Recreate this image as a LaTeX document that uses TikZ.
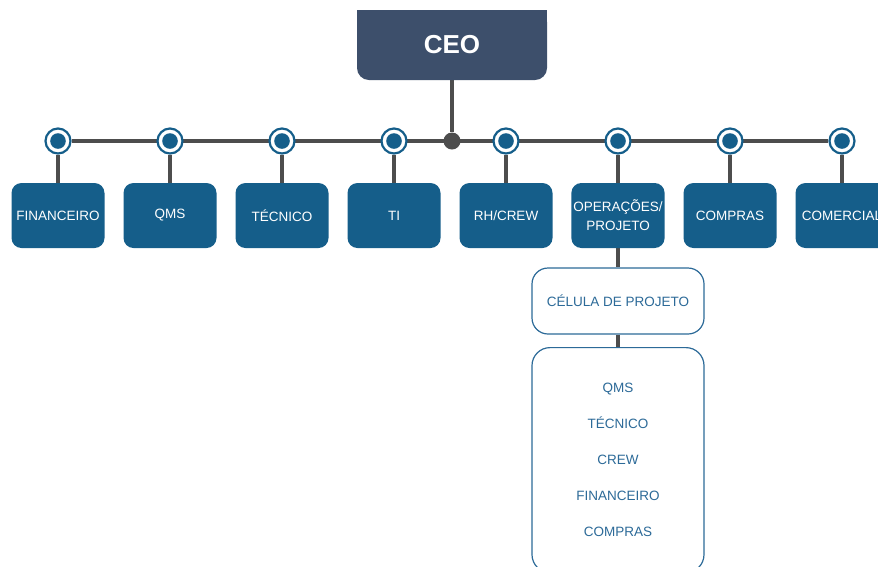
\documentclass[tikz,border=0pt]{standalone}
\usepackage{fontspec}
\setmainfont{Liberation Sans}
\usetikzlibrary{calc,shapes,backgrounds,positioning}
\definecolor{ceoblue}{HTML}{3D4F6B}
\definecolor{deptblue}{HTML}{155E8A}
\definecolor{linegray}{HTML}{4D4D4D}
\definecolor{textblue}{HTML}{2C6A98}

\begin{document}
\begin{tikzpicture}[x=1pt,y=-1pt]
      \tikzstyle{every node}=[font=\fontsize{13.5}{19}\selectfont]
      \tikzstyle{dept}=[rectangle,rounded corners=10pt,fill=deptblue,text=white,minimum width=93pt,minimum height=65pt,align=center,inner sep=2pt]
      \tikzstyle{ring}=[circle,draw=deptblue,line width=2.2pt,fill=white,minimum size=25pt,inner sep=0pt,path picture={\fill[deptblue] (path picture bounding box.center) circle (7.8pt);}]
      \tikzstyle{wbox}=[rectangle,rounded corners=16pt,draw=textblue,line width=1.2pt,fill=white,text=textblue,minimum width=172pt,align=center]
      \tikzstyle{link}=[draw=linegray,line width=3.5pt]

      \useasboundingbox (0,0) rectangle (878,566);
      \clip (0,0) rectangle (878,566);

      % topo
      \node[rectangle,rounded corners=12pt,fill=ceoblue,text=white,font=\fontsize{26}{30}\selectfont\bfseries,minimum width=190pt,minimum height=70pt] (CEO) at (452,45) {CEO};
      \node[circle,fill=linegray,minimum size=17pt,inner sep=0pt] (H) at (452,141) {};

      % departamentos
      \node[ring] (r1) at (58,141) {};
      \node[ring] (r2) at (170,141) {};
      \node[ring] (r3) at (282,141) {};
      \node[ring] (r4) at (394,141) {};
      \node[ring] (r5) at (506,141) {};
      \node[ring] (r6) at (618,141) {};
      \node[ring] (r7) at (730,141) {};
      \node[ring] (r8) at (842,141) {};

      \node[dept] (FIN) at (58,215.5) {FINANCEIRO};
      \node[dept] (QMS) at (170,215.5) {QMS};
      \node[dept] (TEC) at (282,215.5) {TÉCNICO};
      \node[dept] (TI) at (394,215.5) {TI};
      \node[dept] (RH) at (506,215.5) {RH/CREW};
      \node[dept] (OP) at (618,215.5) {OPERAÇÕES/\\PROJETO};
      \node[dept] (COMP) at (730,215.5) {COMPRAS};
      \node[dept] (COM) at (842,215.5) {COMERCIAL};

      % celula
      \node[wbox,minimum height=66pt] (CEL) at (618,301) {CÉLULA DE PROJETO};
      \node[wbox,anchor=north,minimum height=225pt,rounded corners=18pt,font=\fontsize{13.5}{36}\selectfont] (LST) at (618,347) {QMS\\TÉCNICO\\CREW\\FINANCEIRO\\COMPRAS};

      \begin{scope}[on background layer]
        \fill[ceoblue] (CEO.north west) rectangle (CEO.east);
        \draw[link] (CEO) -- (H);
        \draw[link] (r1) -- (r8);
        \draw[link] (r1) -- (FIN);
        \draw[link] (r2) -- (QMS);
        \draw[link] (r3) -- (TEC);
        \draw[link] (r4) -- (TI);
        \draw[link] (r5) -- (RH);
        \draw[link] (r6) -- (OP);
        \draw[link] (r7) -- (COMP);
        \draw[link] (r8) -- (COM);
        \draw[link] (OP) -- (CEL);
        \draw[link] (CEL) -- (LST);
      \end{scope}
\end{tikzpicture}
\end{document}
